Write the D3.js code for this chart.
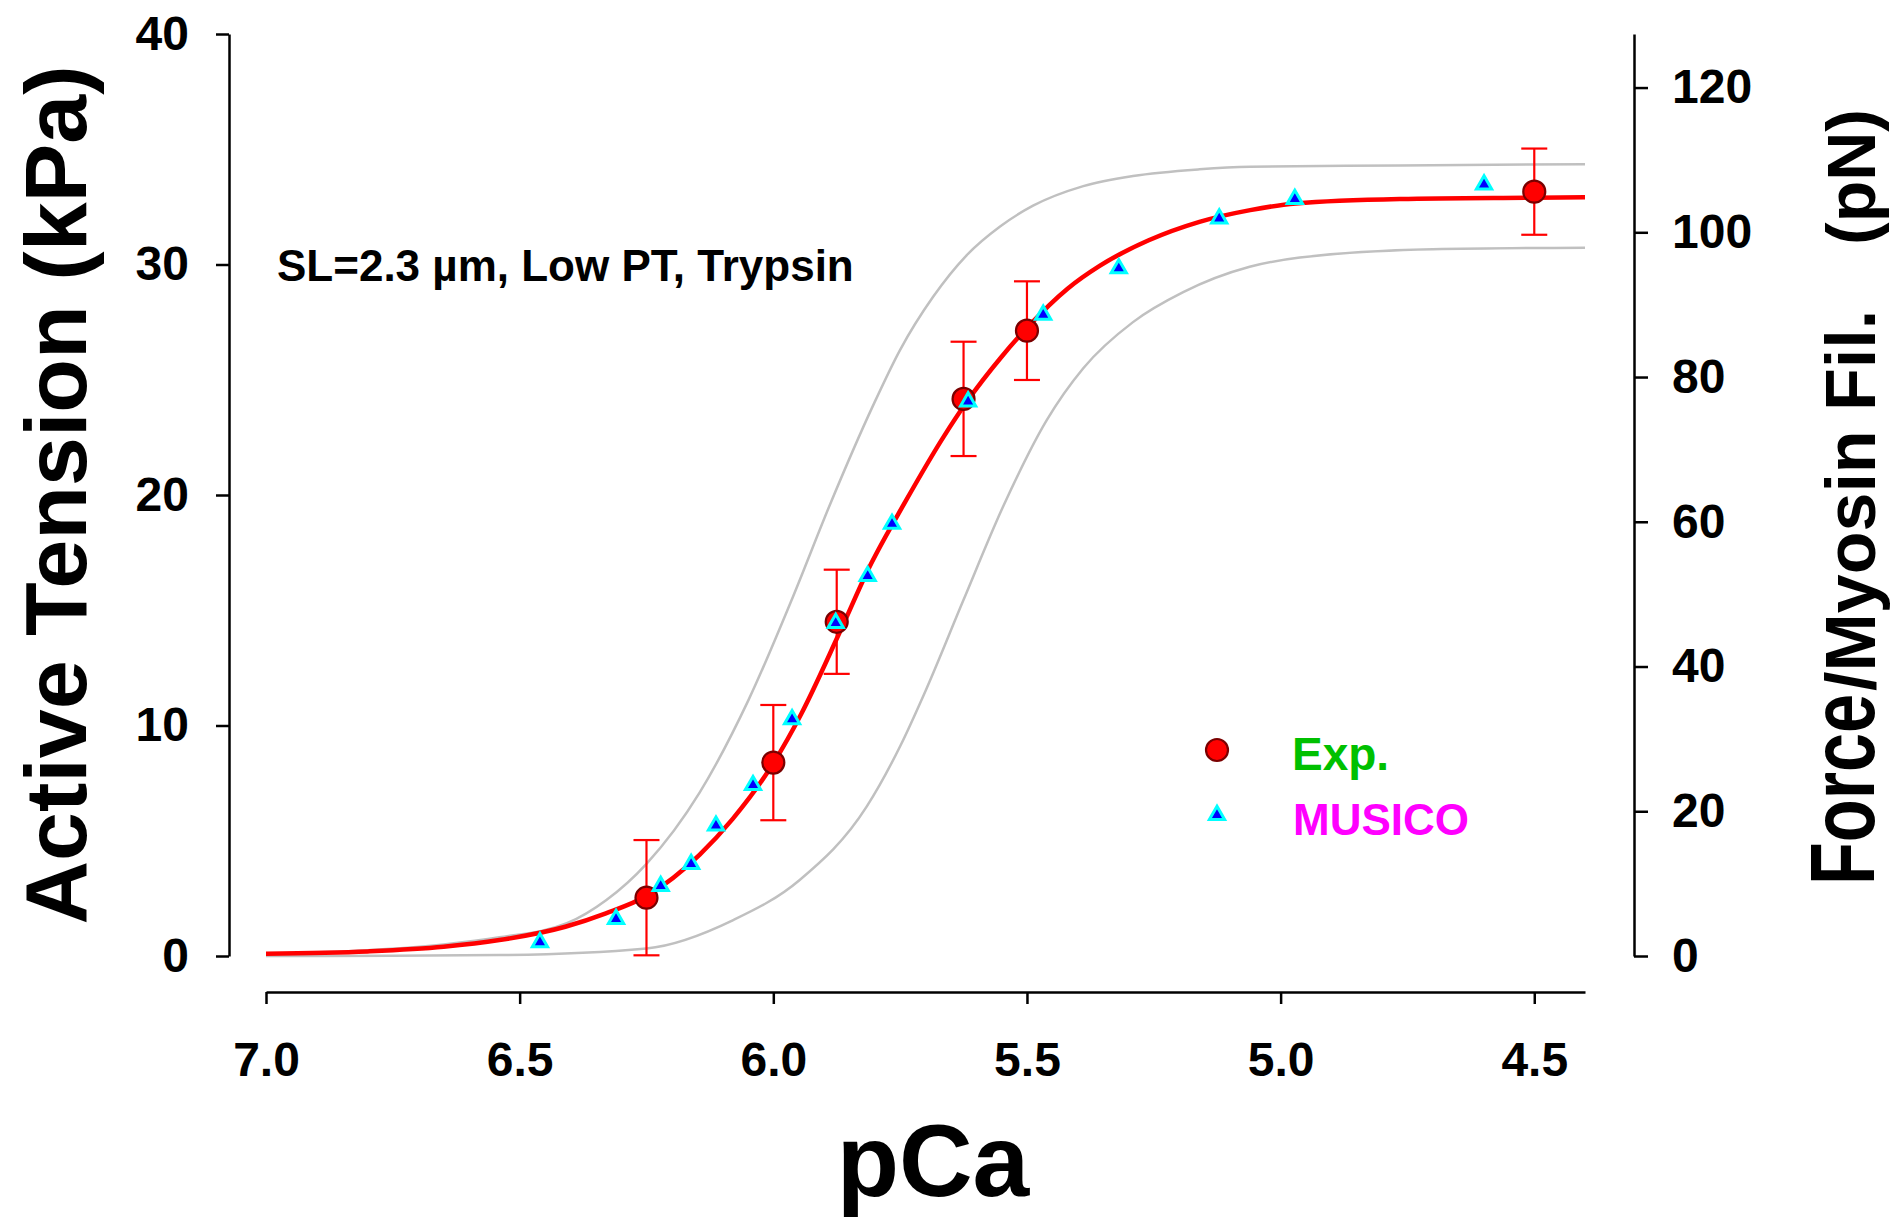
<!DOCTYPE html>
<html>
<head>
<meta charset="utf-8">
<script src="https://cdn.jsdelivr.net/npm/d3@7"></script>
<style>
  body { margin: 0; background: #fff; }
  text { font-family: "Liberation Sans", Arial, Helvetica, sans-serif; font-weight: bold; }
</style>
</head>
<body>
<div id="content"></div>
<script>
// Experimental points: pCa, active tension (kPa), error (kPa)
var exp_pca = [6.25, 6.0, 5.875, 5.625, 5.5, 4.5];
var exp_tension = [2.53, 8.39, 14.5, 24.17, 27.13, 33.16];
var exp_err = [2.5, 2.5, 2.26, 2.48, 2.14, 1.87];

// MUSICO simulation: pCa, force per myosin filament (pN)
var musico_pca = [6.46, 6.31, 6.222, 6.162, 6.113, 6.04, 5.963, 5.877, 5.814, 5.766, 5.616, 5.468, 5.319, 5.121, 4.972, 4.599];
var musico_force = [1.9, 5.1, 9.67, 12.7, 18.0, 23.6, 32.7, 46.0, 52.5, 59.7, 76.6, 88.6, 95.0, 101.9, 104.6, 106.6];

// Fitted curve (red)
var fit_pca = [7.0, 6.8, 6.65, 6.54, 6.41, 6.33, 6.25, 6.145, 6.08, 6.0, 5.945, 5.87, 5.81, 5.74, 5.665, 5.62, 5.55, 5.5, 5.42, 5.356, 5.26, 5.16, 5.06, 4.97, 4.765, 4.5, 4.4];
var fit_tension = [0.1, 0.2, 0.4, 0.69, 1.27, 1.85, 2.6, 4.4, 5.95, 8.36, 10.5, 14.0, 16.9, 19.7, 22.5, 24.0, 26.0, 27.25, 28.95, 29.95, 31.05, 31.85, 32.36, 32.65, 32.84, 32.9, 32.92];

// Upper and lower gray bounds
var upper_pca = [7.0, 6.8, 6.65, 6.54, 6.407, 6.329, 6.25, 6.145, 6.049, 5.961, 5.888, 5.803, 5.75, 5.685, 5.619, 5.553, 5.488, 5.389, 5.291, 5.16, 5.06, 4.765, 4.4];
var upper_tension = [0.1, 0.25, 0.5, 0.81, 1.42, 2.43, 4.0, 7.1, 11.1, 15.6, 19.6, 23.9, 26.3, 28.6, 30.4, 31.65, 32.55, 33.4, 33.84, 34.13, 34.24, 34.3, 34.35];

var lower_pca = [7.0, 6.75, 6.54, 6.25, 6.079, 5.948, 5.816, 5.75, 5.7, 5.626, 5.547, 5.461, 5.389, 5.291, 5.192, 5.061, 4.962, 4.7, 4.4];
var lower_tension = [0.0, 0.01, 0.04, 0.33, 1.56, 3.3, 6.48, 9.1, 11.5, 15.4, 19.5, 23.25, 25.5, 27.5, 28.8, 29.9, 30.3, 30.66, 30.73];

var x_ticks = [7.0, 6.5, 6.0, 5.5, 5.0, 4.5];
var left_ticks = [0, 10, 20, 30, 40];
var right_ticks = [0, 20, 40, 60, 80, 100, 120];

var width = 1894;
var height = 1217;

var chart = d3.select("#content")
  .append("svg")
  .attr("width", width)
  .attr("height", height);

var x = d3.scaleLinear().domain([7.0, 4.4]).range([266, 1585]);
var y = d3.scaleLinear().domain([0, 40]).range([956, 34]);
var y2 = d3.scaleLinear().domain([0, 127.4]).range([956, 34]);

function pairs(xs, ys) {
    return xs.map(function(v, i) { return [v, ys[i]]; });
}

var line = d3.line()
  .x(function(d) { return x(d[0]); })
  .y(function(d) { return y(d[1]); })
  .curve(d3.curveMonotoneX);

// Axes
var x_axis = chart.append("g")
  .attr("transform", "translate(0,992)")
  .call(d3.axisBottom(x).tickValues(x_ticks).tickFormat(d3.format(".1f"))
        .tickSize(12).tickSizeOuter(0).tickPadding(38));

var left_axis = chart.append("g")
  .attr("transform", "translate(229,0)")
  .call(d3.axisLeft(y).tickValues(left_ticks).tickSize(13).tickSizeOuter(0).tickPadding(27));

var right_axis = chart.append("g")
  .attr("transform", "translate(1634,0)")
  .call(d3.axisRight(y2).tickValues(right_ticks).tickSize(14).tickSizeOuter(0).tickPadding(24));

[x_axis, left_axis, right_axis].forEach(function(a) {
    a.select(".domain").attr("stroke", "#000").attr("stroke-width", 2.5);
    a.selectAll(".tick line").attr("stroke", "#000").attr("stroke-width", 2.5);
    a.selectAll(".tick text")
      .attr("fill", "#000")
      .attr("font-size", "48px")
      .attr("font-family", "Liberation Sans, Arial, sans-serif")
      .attr("font-weight", "bold");
});

// Curves
chart.append("path")
  .datum(pairs(upper_pca, upper_tension))
  .attr("d", line)
  .attr("fill", "none")
  .attr("stroke", "#c0c0c0")
  .attr("stroke-width", 2.5);

chart.append("path")
  .datum(pairs(lower_pca, lower_tension))
  .attr("d", line)
  .attr("fill", "none")
  .attr("stroke", "#c0c0c0")
  .attr("stroke-width", 2.5);

chart.append("path")
  .datum(pairs(fit_pca, fit_tension))
  .attr("d", line)
  .attr("fill", "none")
  .attr("stroke", "#ff0000")
  .attr("stroke-width", 4.5);

// Error bars
var cap = 13;
for (var i = 0; i < exp_pca.length; i++) {
    var cx = x(exp_pca[i]);
    var y_hi = y(exp_tension[i] + exp_err[i]);
    var y_lo = y(exp_tension[i] - exp_err[i]);
    var g = chart.append("g")
      .attr("stroke", "#ff0000")
      .attr("stroke-width", 2.2);
    g.append("line").attr("x1", cx).attr("x2", cx).attr("y1", y_hi).attr("y2", y_lo);
    g.append("line").attr("x1", cx - cap).attr("x2", cx + cap).attr("y1", y_hi).attr("y2", y_hi);
    g.append("line").attr("x1", cx - cap).attr("x2", cx + cap).attr("y1", y_lo).attr("y2", y_lo);
}

// Experimental circles
chart.selectAll("circle.exp")
  .data(pairs(exp_pca, exp_tension))
  .enter()
  .append("circle")
  .attr("class", "exp")
  .attr("cx", function(d) { return x(d[0]); })
  .attr("cy", function(d) { return y(d[1]); })
  .attr("r", 11)
  .attr("fill", "#ff0000")
  .attr("stroke", "#7a0000")
  .attr("stroke-width", 2.2);

// MUSICO triangles (right axis)
var tri = d3.symbol().type(d3.symbolTriangle).size(100);
chart.selectAll("path.musico")
  .data(pairs(musico_pca, musico_force))
  .enter()
  .append("path")
  .attr("class", "musico")
  .attr("d", tri)
  .attr("transform", function(d) { return "translate(" + x(d[0]) + "," + y2(d[1]) + ")"; })
  .attr("fill", "#0000ff")
  .attr("stroke", "#00ffff")
  .attr("stroke-width", 3);

// Annotation
chart.append("text")
  .attr("x", 277)
  .attr("y", 281)
  .attr("font-size", "44px")
  .attr("fill", "#000")
  .text("SL=2.3 \u00b5m, Low PT, Trypsin");

// Legend
chart.append("circle")
  .attr("cx", 1217)
  .attr("cy", 750)
  .attr("r", 11)
  .attr("fill", "#ff0000")
  .attr("stroke", "#7a0000")
  .attr("stroke-width", 2.2);

chart.append("path")
  .attr("d", tri)
  .attr("transform", "translate(1217,815)")
  .attr("fill", "#0000ff")
  .attr("stroke", "#00ffff")
  .attr("stroke-width", 3);

chart.append("text")
  .attr("x", 1292)
  .attr("y", 770)
  .attr("font-size", "46px")
  .attr("font-family", "Comic Sans MS, Noto Sans, sans-serif")
  .attr("fill", "#00c000")
  .text("Exp.");

chart.append("text")
  .attr("x", 1293)
  .attr("y", 835)
  .attr("font-size", "44px")
  .attr("font-family", "Comic Sans MS, Noto Sans, sans-serif")
  .attr("fill", "#ff00ff")
  .text("MUSICO");

// Axis titles
chart.append("text")
  .attr("x", 933)
  .attr("y", 1196)
  .attr("text-anchor", "middle")
  .attr("font-size", "102px")
  .attr("fill", "#000")
  .text("pCa");

chart.append("text")
  .attr("transform", "translate(86,495) rotate(-90)")
  .attr("text-anchor", "middle")
  .attr("font-size", "88px")
  .attr("fill", "#000")
  .text("Active Tension (kPa)");

chart.append("text")
  .attr("transform", "translate(1874,885) rotate(-90) scale(0.78,1)")
  .attr("font-size", "90px")
  .attr("fill", "#000")
  .text("Force");

chart.append("text")
  .attr("transform", "translate(1875,691) rotate(-90)")
  .attr("font-size", "70px")
  .attr("fill", "#000")
  .text("/Myosin Fil.");

chart.append("text")
  .attr("transform", "translate(1875,245) rotate(-90)")
  .attr("font-size", "68px")
  .attr("fill", "#000")
  .text("(pN)");
</script>
</body>
</html>
